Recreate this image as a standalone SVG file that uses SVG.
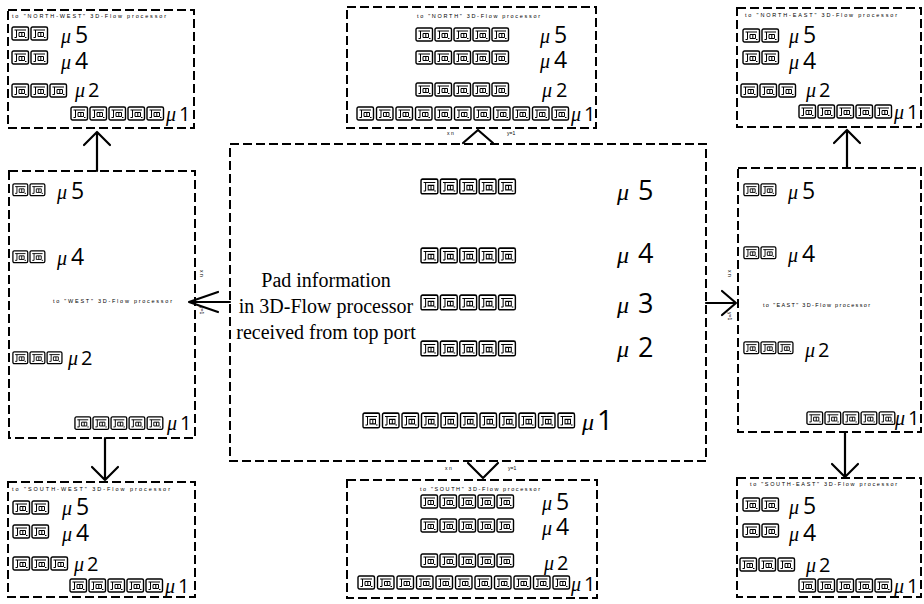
<svg xmlns="http://www.w3.org/2000/svg" width="924" height="604" viewBox="0 0 924 604">
  <style>
    .box { fill: none; stroke: #000; stroke-width: 2; stroke-dasharray: 9 4; }
    .pad rect { fill: #fff; stroke: #000; stroke-width: 1.4; }
    .pad path { fill: none; stroke: #000; stroke-width: 1; }
    .arrow { fill: none; stroke: #000; stroke-width: 2.2; stroke-linecap: round; stroke-linejoin: round; }
    text { fill: #000; }
    .mu { font-family: "Liberation Serif", serif; font-style: italic; }
    .dg { font-family: "Open Sans", "Liberation Sans", sans-serif; font-weight: 400; }
    .s .mu { font-size: 20px; }
    .s .dg { font-size: 23px; }
    .m .mu { font-size: 20px; }
    .m .dg { font-size: 20px; }
    .hdr { font-family: "Liberation Sans", sans-serif; font-size: 5.5px; }
    .tiny { font-family: "Liberation Sans", sans-serif; font-size: 5px; }
    .note { font-family: "Liberation Serif", serif; font-size: 20px; text-anchor: middle; }
  </style>
  <defs>
    <!-- a single pad cell -->
    <g id="pad" class="pad">
      <rect x="1" y="1" width="16.5" height="13" rx="1.5"/>
      <path d="M3.5 4H15 M5.5 4v7.5 M8 6.5h5.5v4H8z M10.8 6.5v4 M3.5 11.5h2 M14 11.5h1.5"/>
    </g>
    <!-- rows of pads -->
    <g id="r2"><use href="#pad"/><use href="#pad" x="19"/></g>
    <g id="r3"><use href="#pad"/><use href="#pad" x="19"/><use href="#pad" x="38"/></g>
    <g id="r5"><use href="#pad"/><use href="#pad" x="19"/><use href="#pad" x="38"/><use href="#pad" x="57"/><use href="#pad" x="76"/></g>
    <g id="r11">
      <use href="#pad"/><use href="#pad" x="19.5"/><use href="#pad" x="39"/><use href="#pad" x="58.5"/>
      <use href="#pad" x="78"/><use href="#pad" x="97.5"/><use href="#pad" x="117"/><use href="#pad" x="136.5"/>
      <use href="#pad" x="156"/><use href="#pad" x="175.5"/><use href="#pad" x="195"/>
    </g>
  </defs>

  <rect width="924" height="604" fill="#fff"/>

  <!-- north-west processor -->
  <g id="nw">
    <rect class="box" x="8" y="10" width="186" height="118"/>
    <text class="hdr" x="12" y="18" textLength="154" lengthAdjust="spacing">to "NORTH-WEST" 3D-Flow processor</text>
    <use href="#r2" x="11" y="26"/>
    <text class="s" y="43"><tspan class="mu" x="61">μ</tspan><tspan class="dg" x="75">5</tspan></text>
    <use href="#r2" x="11" y="50"/>
    <text class="s" y="69"><tspan class="mu" x="61">μ</tspan><tspan class="dg" x="75">4</tspan></text>
    <use href="#r3" x="11" y="83"/>
    <text class="m" y="97"><tspan class="mu" x="75">μ</tspan><tspan class="dg" x="88">2</tspan></text>
    <use href="#r5" x="70" y="106"/>
    <text class="m" y="121"><tspan class="mu" x="166">μ</tspan><tspan class="dg" x="179">1</tspan></text>
  </g>

  <!-- north processor -->
  <g id="north">
    <rect class="box" x="347" y="7" width="249" height="121"/>
    <text class="hdr" x="417" y="18" textLength="123" lengthAdjust="spacing">to "NORTH" 3D-Flow processor</text>
    <use href="#r5" x="415" y="27"/>
    <text class="s" y="43"><tspan class="mu" x="540">μ</tspan><tspan class="dg" x="554">5</tspan></text>
    <use href="#r5" x="415" y="50"/>
    <text class="s" y="68"><tspan class="mu" x="540">μ</tspan><tspan class="dg" x="554">4</tspan></text>
    <use href="#r5" x="415" y="82"/>
    <text class="m" y="97"><tspan class="mu" x="542">μ</tspan><tspan class="dg" x="556">2</tspan></text>
    <use href="#r11" x="356" y="106"/>
    <text class="m" y="121"><tspan class="mu" x="571">μ</tspan><tspan class="dg" x="584">1</tspan></text>
  </g>

  <!-- north-east processor -->
  <g id="ne">
    <rect class="box" x="737" y="8" width="184" height="119"/>
    <text class="hdr" x="745" y="17" textLength="152" lengthAdjust="spacing">to "NORTH-EAST" 3D-Flow processor</text>
    <use href="#r2" x="742" y="28"/>
    <text class="s" y="43"><tspan class="mu" x="789">μ</tspan><tspan class="dg" x="803">5</tspan></text>
    <use href="#r2" x="742" y="50"/>
    <text class="s" y="69"><tspan class="mu" x="789">μ</tspan><tspan class="dg" x="803">4</tspan></text>
    <use href="#r3" x="740" y="83"/>
    <text class="m" y="97"><tspan class="mu" x="806">μ</tspan><tspan class="dg" x="819">2</tspan></text>
    <use href="#r5" x="798" y="104"/>
    <text class="m" y="119"><tspan class="mu" x="894">μ</tspan><tspan class="dg" x="907">1</tspan></text>
  </g>

  <!-- west processor -->
  <g id="west">
    <rect class="box" x="9" y="171" width="186" height="267"/>
    <g transform="translate(12,183) scale(0.9)"><use href="#r2"/></g>
    <text class="s" y="199"><tspan class="mu" x="57">μ</tspan><tspan class="dg" x="71">5</tspan></text>
    <g transform="translate(12,250) scale(0.9)"><use href="#r2"/></g>
    <text class="s" y="265"><tspan class="mu" x="57">μ</tspan><tspan class="dg" x="71">4</tspan></text>
    <text class="hdr" x="53" y="303" textLength="119" lengthAdjust="spacing">to "WEST" 3D-Flow processor</text>
    <g transform="translate(12,351) scale(0.9)"><use href="#r3"/></g>
    <text class="m" y="365"><tspan class="mu" x="68">μ</tspan><tspan class="dg" x="81">2</tspan></text>
    <g transform="translate(74,416) scale(0.95)"><use href="#r5"/></g>
    <text class="m" y="430"><tspan class="mu" x="167">μ</tspan><tspan class="dg" x="180">1</tspan></text>
  </g>

  <!-- central processor -->
  <g id="center">
    <rect class="box" x="230" y="144" width="476" height="317"/>
    <g transform="translate(420,178) scale(1.02,1.13)"><use href="#r5"/></g>
    <text y="200"><tspan class="mu" x="617" font-size="24">μ</tspan><tspan class="dg" x="638" font-size="27">5</tspan></text>
    <g transform="translate(420,247) scale(1.02,1.13)"><use href="#r5"/></g>
    <text y="263"><tspan class="mu" x="617" font-size="24">μ</tspan><tspan class="dg" x="638" font-size="27">4</tspan></text>
    <g transform="translate(420,294) scale(1.02,1.13)"><use href="#r5"/></g>
    <text y="313"><tspan class="mu" x="617" font-size="24">μ</tspan><tspan class="dg" x="638" font-size="27">3</tspan></text>
    <g transform="translate(420,340) scale(1.02,1.13)"><use href="#r5"/></g>
    <text y="357"><tspan class="mu" x="617" font-size="24">μ</tspan><tspan class="dg" x="638" font-size="27">2</tspan></text>
    <g transform="translate(362,412) scale(1,1.13)"><use href="#r11"/></g>
    <text y="430"><tspan class="mu" x="582" font-size="24">μ</tspan><tspan class="dg" x="597" font-size="28">1</tspan></text>
    <text class="note" x="326" y="287">Pad information</text>
    <text class="note" x="326" y="313">in 3D-Flow processor</text>
    <text class="note" x="326" y="339">received from top port</text>
  </g>

  <!-- east processor -->
  <g id="east">
    <rect class="box" x="738" y="168" width="183" height="264"/>
    <g transform="translate(743,183) scale(0.9)"><use href="#r2"/></g>
    <text class="s" y="199"><tspan class="mu" x="788">μ</tspan><tspan class="dg" x="802">5</tspan></text>
    <g transform="translate(743,246) scale(0.9)"><use href="#r2"/></g>
    <text class="s" y="262"><tspan class="mu" x="788">μ</tspan><tspan class="dg" x="802">4</tspan></text>
    <text class="hdr" x="763" y="307" textLength="107" lengthAdjust="spacing">to "EAST" 3D-Flow processor</text>
    <g transform="translate(743,341) scale(0.9)"><use href="#r3"/></g>
    <text class="m" y="357"><tspan class="mu" x="805">μ</tspan><tspan class="dg" x="818">2</tspan></text>
    <g transform="translate(806,411) scale(0.95)"><use href="#r5"/></g>
    <text class="m" y="425"><tspan class="mu" x="895">μ</tspan><tspan class="dg" x="908">1</tspan></text>
  </g>

  <!-- south-west processor -->
  <g id="sw">
    <rect class="box" x="8" y="482" width="187" height="115"/>
    <text class="hdr" x="12" y="491" textLength="158" lengthAdjust="spacing">to "SOUTH-WEST" 3D-Flow processor</text>
    <use href="#r2" x="12" y="500"/>
    <text class="s" y="515"><tspan class="mu" x="62">μ</tspan><tspan class="dg" x="76">5</tspan></text>
    <use href="#r2" x="12" y="524"/>
    <text class="s" y="541"><tspan class="mu" x="62">μ</tspan><tspan class="dg" x="76">4</tspan></text>
    <use href="#r3" x="12" y="556"/>
    <text class="m" y="571"><tspan class="mu" x="74">μ</tspan><tspan class="dg" x="87">2</tspan></text>
    <use href="#r5" x="69" y="578"/>
    <text class="m" y="593"><tspan class="mu" x="165">μ</tspan><tspan class="dg" x="178">1</tspan></text>
  </g>

  <!-- south processor -->
  <g id="south">
    <rect class="box" x="347" y="480" width="250" height="118"/>
    <text class="hdr" x="420" y="491" textLength="120" lengthAdjust="spacing">to "SOUTH" 3D-Flow processor</text>
    <use href="#r5" x="420" y="494"/>
    <text class="s" y="510"><tspan class="mu" x="542">μ</tspan><tspan class="dg" x="556">5</tspan></text>
    <use href="#r5" x="420" y="518"/>
    <text class="s" y="535"><tspan class="mu" x="542">μ</tspan><tspan class="dg" x="556">4</tspan></text>
    <use href="#r5" x="420" y="553"/>
    <text class="m" y="570"><tspan class="mu" x="544">μ</tspan><tspan class="dg" x="557">2</tspan></text>
    <use href="#r11" x="357" y="575"/>
    <text class="m" y="591"><tspan class="mu" x="571">μ</tspan><tspan class="dg" x="584">1</tspan></text>
  </g>

  <!-- south-east processor -->
  <g id="se">
    <rect class="box" x="737" y="478" width="184" height="119"/>
    <text class="hdr" x="750" y="486" textLength="147" lengthAdjust="spacing">to "SOUTH-EAST" 3D-Flow processor</text>
    <use href="#r2" x="742" y="497"/>
    <text class="s" y="514"><tspan class="mu" x="789">μ</tspan><tspan class="dg" x="803">5</tspan></text>
    <use href="#r2" x="742" y="523"/>
    <text class="s" y="541"><tspan class="mu" x="789">μ</tspan><tspan class="dg" x="803">4</tspan></text>
    <use href="#r3" x="739" y="557"/>
    <text class="m" y="572"><tspan class="mu" x="806">μ</tspan><tspan class="dg" x="819">2</tspan></text>
    <use href="#r5" x="798" y="578"/>
    <text class="m" y="593"><tspan class="mu" x="894">μ</tspan><tspan class="dg" x="907">1</tspan></text>
  </g>

  <!-- connectors -->
  <g id="connectors">
    <!-- west up to north-west -->
    <path class="arrow" d="M97 171V132 M84 145L97 132L110 145"/>
    <!-- east up to north-east -->
    <path class="arrow" d="M847 168V130 M834 143L847 130L860 143"/>
    <!-- west down to south-west -->
    <path class="arrow" d="M105 438V480 M92 467L105 480L118 467"/>
    <!-- east down to south-east -->
    <path class="arrow" d="M845 432V477 M832 464L845 477L858 464"/>
    <!-- centre to north -->
    <path class="arrow" d="M463 143L478 130L493 143"/>
    <!-- centre to south -->
    <path class="arrow" d="M468 463L483 478L498 463"/>
    <!-- centre to west -->
    <path class="arrow" d="M230 302H189 M218 292L189 302L218 312"/>
    <!-- centre to east -->
    <path class="arrow" d="M706 303H736 M722 291L736 303L722 315"/>
    <!-- small port marks -->
    <text class="tiny" x="447" y="135">x  n</text>
    <text class="tiny" x="507" y="135">y=1</text>
    <text class="tiny" x="445" y="470">x  n</text>
    <text class="tiny" x="508" y="470">y=1</text>
    <text class="tiny" transform="translate(200,270) rotate(90)">x  n</text>
    <text class="tiny" transform="translate(200,306) rotate(90)">y=1</text>
    <text class="tiny" transform="translate(728,270) rotate(90)">x  n</text>
    <text class="tiny" transform="translate(728,312) rotate(90)">y=1</text>
  </g>
</svg>
